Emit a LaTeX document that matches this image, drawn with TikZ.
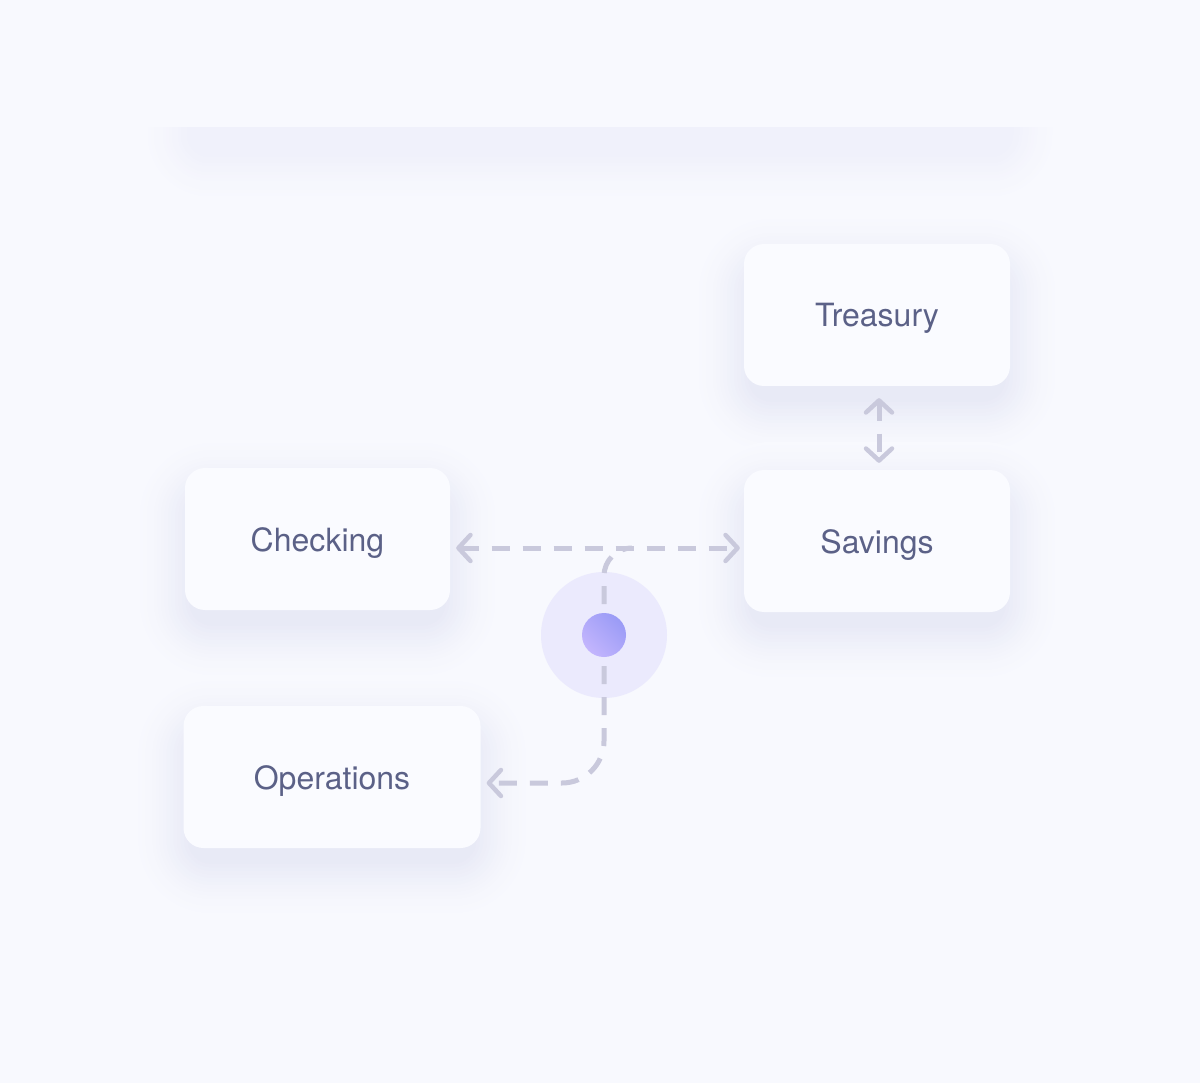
\documentclass[tikz,border=0pt]{standalone}
\usepackage{fontspec}
\setmainfont{TeX Gyre Heros}
\usetikzlibrary{arrows.meta,backgrounds}
\definecolor{bg}{HTML}{F8F9FE}
\definecolor{boxc}{HTML}{FAFBFF}
\definecolor{txt}{HTML}{5B6187}
\definecolor{dashc}{HTML}{C9C9DC}
\definecolor{shd}{HTML}{E8EAF6}
\definecolor{band}{HTML}{F0F1FB}
\definecolor{ring}{HTML}{EBEAFD}
\definecolor{dotA}{HTML}{9A9BF6}
\definecolor{dotB}{HTML}{C3B5FD}
\tikzset{
  card/.style={rectangle, rounded corners=20pt, fill=boxc, minimum height=142pt,
    text=txt, font=\fontsize{32}{38}\selectfont, inner sep=0pt,
    text height=24pt, text depth=0pt},
  link/.style={draw=dashc, line width=5pt, dash pattern=on 18pt off 13pt},
  chev/.style={>={Straight Barb[length=12pt, width=26pt, line width=4.5pt, round]}},
}
\newcommand\cardshadow[1]{%
  \foreach \i in {16,...,1}{%
    \pgfmathsetmacro\rr{20+\i*3.5}%
    \pgfmathsetmacro\dd{\i*3.5-8}%
    \pgfmathsetmacro\pp{100*((17-\i)/16)^1.6}%
    \fill[shd!\pp!bg, rounded corners=\rr pt]
      ([shift={(-\dd,-\dd+20)}]#1.north west) rectangle ([shift={(\dd,\dd+20)}]#1.south east);
  }%
}
\begin{document}
\begin{tikzpicture}[x=1pt, y=-1pt]
\useasboundingbox (0,0) rectangle (1200,1083);

% cards
\node[card, minimum width=266pt] (trs) at (877,315) {Treasury};
\node[card, minimum width=266pt] (sav) at (877,541) {Savings};
\node[card, minimum width=265pt] (chk) at (317.5,539) {Checking};
\node[card, minimum width=297pt] (ops) at (332,777) {Operations};

% hub ring
\node[circle, fill=ring, minimum size=126pt, inner sep=0pt] (ring) at (604,635) {};
\coordinate (meet) at (632,548);

% connectors
\draw[link, chev, <->] ([shift={(6,9)}]chk.east) -- ([shift={(-4,7)}]sav.west);
\draw[link, chev, <->] ([shift={(2,12)}]trs.south) -- ([shift={(2,-7)}]sav.north);
\draw[link, rounded corners=28pt] (ring.center) |- (meet);
\draw[link, chev, ->, rounded corners=42pt] (ring.center) |- ([shift={(6,6)}]ops.east);

% hub dot
\node[circle, minimum size=44pt, inner sep=0pt, left color=dotA, right color=dotB, shading angle=-45] (hub) at (ring.center) {};

\begin{pgfonlayer}{background}
  \fill[bg] (0,0) rectangle (1200,1083);
  \begin{scope}
    \clip (0,128) rectangle (1200,1083);
    \foreach \i in {16,...,1}{%
      \pgfmathsetmacro\rr{20+\i*3}%
      \pgfmathsetmacro\dd{\i*3}%
      \pgfmathsetmacro\pp{100*((17-\i)/16)^1.4}%
      \fill[band!\pp!bg, rounded corners=\rr pt]
        (190-\dd,0-\dd+14) rectangle (1010+\dd,140+\dd+14);
    }
  \end{scope}
  \cardshadow{trs}
  \cardshadow{sav}
  \cardshadow{chk}
  \cardshadow{ops}
\end{pgfonlayer}
\end{tikzpicture}
\end{document}
